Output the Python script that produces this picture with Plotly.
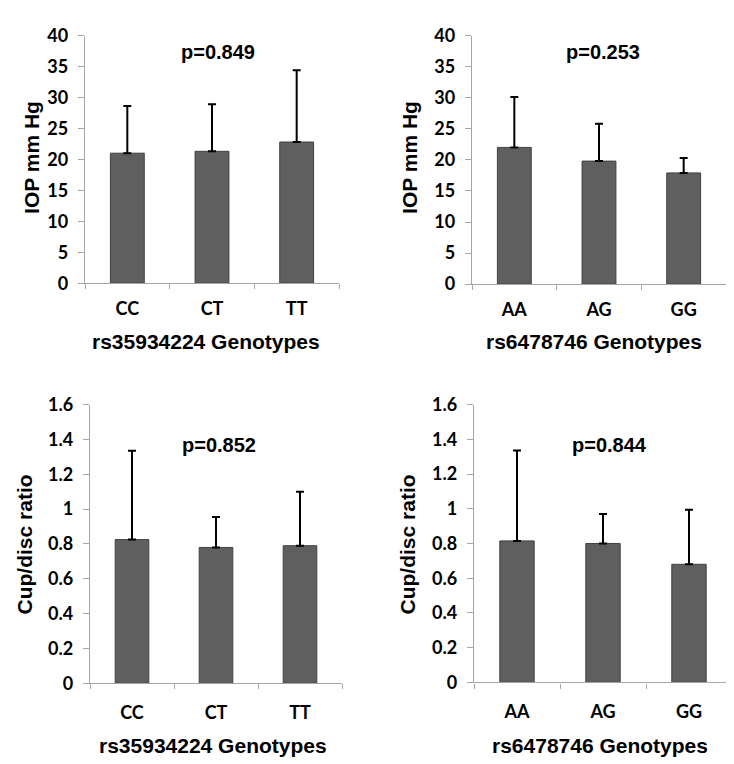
import plotly.graph_objects as go
from plotly.subplots import make_subplots

# genotype groups
rs359_genotypes = ["CC", "CT", "TT"]
rs647_genotypes = ["AA", "AG", "GG"]

# IOP (mm Hg) mean and SD
iop_rs359_mean = [21.0, 21.3, 22.8]
iop_rs359_sd = [7.6, 7.6, 11.6]
iop_rs647_mean = [22.0, 19.8, 17.9]
iop_rs647_sd = [8.1, 6.0, 2.4]

# Cup/disc ratio mean and SD
cd_rs359_mean = [0.825, 0.78, 0.79]
cd_rs359_sd = [0.51, 0.175, 0.31]
cd_rs647_mean = [0.815, 0.80, 0.68]
cd_rs647_sd = [0.52, 0.17, 0.315]

p_values = ["p=0.849", "p=0.253", "p=0.852", "p=0.844"]

W, H = 734, 764
bar_color = "#5f5f5f"
axis_gray = "#a6a6a6"
tick_font = dict(family="Lato", size=18, color="black", weight="bold")
title_font = dict(family="Liberation Sans", size=21, color="black", weight="bold")

fig = make_subplots(rows=2, cols=2)

panels = [
    (1, 1, rs359_genotypes, iop_rs359_mean, iop_rs359_sd),
    (1, 2, rs647_genotypes, iop_rs647_mean, iop_rs647_sd),
    (2, 1, rs359_genotypes, cd_rs359_mean, cd_rs359_sd),
    (2, 2, rs647_genotypes, cd_rs647_mean, cd_rs647_sd),
]
for r, c, cats, mean, sd in panels:
    fig.add_trace(go.Bar(
        x=cats, y=mean, width=0.4,
        marker=dict(color=bar_color, line=dict(color="#404040", width=1)),
        error_y=dict(type="data", array=sd, symmetric=False, arrayminus=[0] * len(sd),
                     color="black", thickness=2, width=4),
        showlegend=False,
    ), row=r, col=c)

# pixel-based domains
def xd(a, b):
    return [a / W, b / W]

def yd(top, bottom):
    return [1 - bottom / H, 1 - top / H]

x_domains = [xd(77, 331), xd(464, 718), xd(82, 334), xd(466, 724)]
y_domains = [yd(16, 271), yd(16, 272), yd(396, 683), yd(396, 682)]

for i in range(4):
    sfx = "" if i == 0 else str(i + 1)
    top = i < 2
    fig.layout["xaxis" + sfx].update(
        domain=x_domains[i], type="category", range=[-0.5, 2.5],
        showline=True, linecolor=axis_gray, linewidth=1.3,
        ticks="outside", tickson="boundaries", ticklen=5, tickcolor=axis_gray,
        tickfont=dict(family="Lato", size=18, color="black", weight="bold"),
        ticklabelstandoff=9 if top else 13, showgrid=False, zeroline=False,
    )
    fig.layout["yaxis" + sfx].update(
        domain=y_domains[i],
        range=[0, 40] if top else [0, 1.6],
        dtick=5 if top else 0.2,
        showline=True, linecolor=axis_gray, linewidth=1.3,
        ticks="outside", ticklen=6, tickcolor=axis_gray,
        tickfont=tick_font, ticklabelstandoff=6,
        showgrid=False, zeroline=False,
    )

# p-values in data coordinates
p_pos = [(1.07, 37.3), (1.05, 37.3), (1.04, 1.37), (1.08, 1.365)]
for i, (txt, (px_, py_)) in enumerate(zip(p_values, p_pos)):
    sfx = "" if i == 0 else str(i + 1)
    fig.add_annotation(x=px_, y=py_, xref="x" + sfx, yref="y" + sfx, text=txt,
                       showarrow=False, font=dict(family="Liberation Sans", size=20,
                                                  color="black", weight="bold"))

# axis titles
x_titles = [("rs35934224 Genotypes", 198, 331), ("rs6478746 Genotypes", 586, 331),
            ("rs35934224 Genotypes", 205, 747), ("rs6478746 Genotypes", 592, 747)]
for txt, cx, cy in x_titles:
    fig.add_annotation(x=cx / W, y=1 - cy / H, xref="paper", yref="paper", text=txt,
                       showarrow=False, font=title_font, xanchor="center", yanchor="middle")

y_titles = [("IOP mm Hg", 24, 142), ("IOP mm Hg", 402, 142),
            ("Cup/disc ratio", 16, 540), ("Cup/disc ratio", 399, 540)]
for txt, cx, cy in y_titles:
    fig.add_annotation(x=cx / W, y=1 - cy / H, xref="paper", yref="paper", text=txt,
                       textangle=-90, showarrow=False, font=title_font,
                       xanchor="center", yanchor="middle")

fig.update_layout(width=W, height=H, margin=dict(l=0, r=0, t=0, b=0),
                  plot_bgcolor="white", paper_bgcolor="white")

fig.write_html("out.html")
